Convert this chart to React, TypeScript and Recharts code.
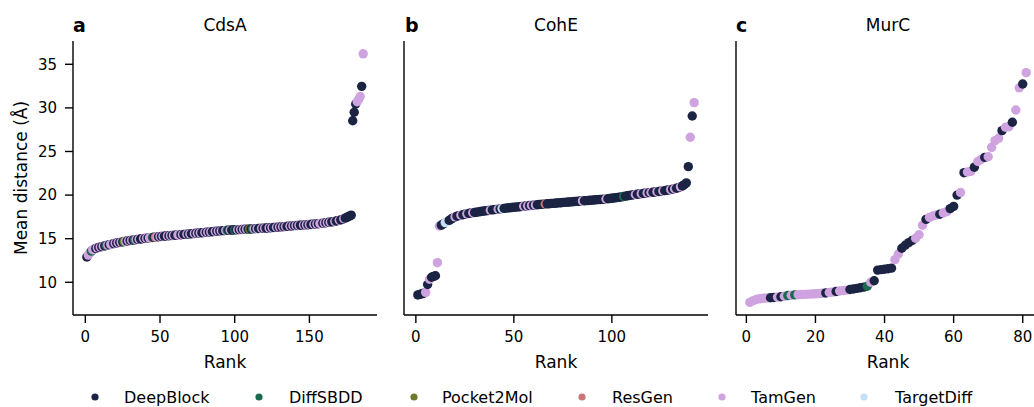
import * as React from 'react';
import { ScatterChart, Scatter, XAxis, YAxis } from 'recharts';

// model keys used in the per-point code strings
const modelKeys = ['D', 'S', 'P', 'R', 'T', 'X'];
const modelNames = ['DeepBlock', 'DiffSBDD', 'Pocket2Mol', 'ResGen', 'TamGen', 'TargetDiff'];
const modelColors = ['#1b2443', '#1d6a4f', '#6b7d2c', '#cc7777', '#cfa2e0', '#c5e0f2'];

const yTicks = [10, 15, 20, 25, 30, 35];

// CdsA: mean distance by rank (186 molecules)
const cdsaDistance = [
    12.9, 13.12, 13.38, 13.58, 13.74, 13.82, 13.88, 13.95, 14.0, 14.05,
    14.09, 14.14, 14.18, 14.22, 14.27, 14.31, 14.35, 14.4, 14.44, 14.49,
    14.52, 14.55, 14.58, 14.61, 14.64, 14.67, 14.7, 14.73, 14.76, 14.79,
    14.82, 14.84, 14.87, 14.9, 14.92, 14.95, 14.97, 15.0, 15.02, 15.04,
    15.06, 15.08, 15.1, 15.12, 15.14, 15.16, 15.18, 15.2, 15.22, 15.25,
    15.26, 15.28, 15.29, 15.31, 15.32, 15.34, 15.35, 15.37, 15.38, 15.4,
    15.41, 15.43, 15.44, 15.46, 15.47, 15.49, 15.5, 15.52, 15.53, 15.55,
    15.57, 15.58, 15.6, 15.62, 15.63, 15.65, 15.67, 15.68, 15.7, 15.72,
    15.74, 15.75, 15.77, 15.79, 15.8, 15.82, 15.84, 15.86, 15.88, 15.9,
    15.91, 15.92, 15.93, 15.95, 15.96, 15.97, 15.98, 15.99, 16.0, 16.01,
    16.02, 16.03, 16.04, 16.05, 16.06, 16.07, 16.08, 16.09, 16.1, 16.11,
    16.12, 16.13, 16.14, 16.15, 16.16, 16.17, 16.18, 16.19, 16.2, 16.21,
    16.22, 16.23, 16.24, 16.26, 16.27, 16.28, 16.3, 16.31, 16.32, 16.34,
    16.35, 16.37, 16.38, 16.4, 16.41, 16.43, 16.44, 16.46, 16.48, 16.5,
    16.51, 16.52, 16.53, 16.55, 16.56, 16.57, 16.58, 16.59, 16.6, 16.62,
    16.63, 16.65, 16.66, 16.68, 16.7, 16.72, 16.74, 16.76, 16.78, 16.81,
    16.83, 16.85, 16.88, 16.9, 16.93, 16.96, 16.99, 17.03, 17.07, 17.11,
    17.16, 17.22, 17.29, 17.36, 17.44, 17.52, 17.61, 17.7,
    28.53, 29.5, 30.45, 30.7, 30.98, 31.3, 32.47, 36.2,
];
const cdsaModel =
    'DTTSTTDTDT DTDSTDTTDT DTDTDPTDTD TDSTDTDDTD TDTTSDRTDT DTDDTDTDTD ' +
    'DTTDTDDTDT DDTDTDTDDT DTDTDDTDTD TDDTSDTDDS DTDTDTDTDP DSTDTDDTDT ' +
    'DDTDTDDTDT DTDTDDTDTD TDTDDTDTDT DDTDTDTTDT DTDTDDTDDT DDTDDDDD DDDTTTDT';

// CohE: mean distance by rank (142 molecules)
const coheDistance = [
    8.55, 8.62, 8.68, 8.75, 8.85, 9.75, 10.35, 10.58, 10.68, 10.75,
    12.25, 16.45, 16.55, 16.7, 16.85, 16.97, 17.1, 17.25, 17.38, 17.5,
    17.58, 17.65, 17.7, 17.75, 17.8, 17.85, 17.9, 17.95, 17.98, 18.01,
    18.04, 18.08, 18.11, 18.15, 18.18, 18.21, 18.24, 18.27, 18.3, 18.33,
    18.36, 18.39, 18.42, 18.45, 18.48, 18.5, 18.53, 18.55, 18.58, 18.6,
    18.62, 18.65, 18.67, 18.7, 18.72, 18.75, 18.77, 18.8, 18.82, 18.85,
    18.87, 18.9, 18.92, 18.94, 18.96, 18.98, 19.0, 19.01, 19.03, 19.05,
    19.07, 19.09, 19.11, 19.13, 19.15, 19.17, 19.19, 19.2, 19.22, 19.24,
    19.26, 19.28, 19.3, 19.32, 19.33, 19.35, 19.37, 19.38, 19.4, 19.42,
    19.44, 19.46, 19.48, 19.5, 19.51, 19.52, 19.55, 19.58, 19.61, 19.64,
    19.67, 19.7, 19.73, 19.76, 19.8, 19.84, 19.88, 19.92, 19.96, 20.0,
    20.04, 20.07, 20.1, 20.13, 20.16, 20.19, 20.22, 20.25, 20.28, 20.3,
    20.33, 20.36, 20.39, 20.42, 20.45, 20.48, 20.51, 20.55, 20.59, 20.63,
    20.68, 20.73, 20.79, 20.86, 20.95, 21.05, 21.2, 21.4, 23.26, 26.63,
    29.07, 30.6,
];
const coheModel =
    'DDDDTDTDDD TTDDXXDDDT DDTDDTDDTD DDDDDDDTDD DTDXDDDDDD DDDDTDTDTD ' +
    'TDDDDRDDDD DDDDDDDDDD DDDDTDDDDD DDDDDDTDDD DDDDDSDDDD DTDDTDDTDT ' +
    'DDTDDTDDDT DTDDTDDDDT DT';

// MurC: mean distance by rank (81 molecules)
const murcDistance = [
    7.7, 7.9, 8.05, 8.12, 8.17, 8.2, 8.23, 8.26, 8.3, 8.34,
    8.4, 8.48, 8.52, 8.56, 8.58, 8.6, 8.62, 8.64, 8.66, 8.68,
    8.7, 8.74, 8.78, 8.83, 8.88, 8.95, 9.0, 9.05, 9.1, 9.18,
    9.24, 9.3, 9.38, 9.45, 9.55, 10.0, 10.18, 11.4, 11.45, 11.5,
    11.55, 11.62, 12.6, 13.25, 13.9, 14.25, 14.55, 14.8, 15.05, 15.45,
    16.55, 17.22, 17.45, 17.6, 17.72, 17.8, 17.95, 18.1, 18.45, 18.7,
    20.0, 20.3, 22.57, 22.65, 22.72, 23.2, 23.85, 24.1, 24.33, 24.4,
    25.48, 26.24, 26.51, 27.39, 27.78, 27.84, 28.35, 29.76, 32.3, 32.74,
    34.04,
];
const murcModel =
    'TTTTTTDDTD TSTSTTTTTT TTDTTDTTTD DDDDSTDDDD DDTTDDDDTT TDTTTDTTDD ' +
    'DTDTTDTTDT TTTDTTDTTD T';

const font = '"DejaVu Sans", sans-serif';
const ink = '#000';

const toPoints = (values: number[], codes: string) => {
    const c = codes.replace(/ /g, '');
    return values.map((v, i) => ({
        rank: i + 1,
        distance: v,
        color: modelColors[Math.max(0, modelKeys.indexOf(c[i]))],
    }));
};

const Dot = (p: any) => <circle cx={p.cx} cy={p.cy} r={4.7} fill={p.payload.color} />;

type PanelProps = {
    left: number;
    width: number;
    margin: { top: number; right: number; bottom: number; left: number };
    yWidth: number;
    showYLabels: boolean;
    xDomain: [number, number];
    xTicks: number[];
    data: { rank: number; distance: number; color: string }[];
};

const Panel = (props: PanelProps) => (
    <div style={{ position: 'absolute', left: props.left, top: 0 }}>
        <ScatterChart width={props.width} height={407} margin={props.margin}>
            <XAxis
                type="number"
                dataKey="rank"
                domain={props.xDomain}
                ticks={props.xTicks}
                interval={0}
                height={30}
                tickSize={8}
                tickMargin={8}
                axisLine={{ stroke: ink, strokeWidth: 1.4 }}
                tickLine={{ stroke: ink, strokeWidth: 1.4 }}
                tick={{ fill: ink, fontSize: 15, fontFamily: font }}
            />
            <YAxis
                type="number"
                dataKey="distance"
                domain={[6.25, 37.67]}
                ticks={yTicks}
                interval={0}
                width={props.yWidth}
                tickSize={8}
                tickMargin={8}
                axisLine={{ stroke: ink, strokeWidth: 1.4 }}
                tickLine={{ stroke: ink, strokeWidth: 1.4 }}
                tick={props.showYLabels ? { fill: ink, fontSize: 15, fontFamily: font } : false}
            />
            <Scatter data={props.data} shape={Dot} isAnimationActive={false} />
        </ScatterChart>
    </div>
);

const titles = [
    { letter: 'a', name: 'CdsA', x0: 73, cx: 225 },
    { letter: 'b', name: 'CohE', x0: 405, cx: 556 },
    { letter: 'c', name: 'MurC', x0: 736, cx: 888 },
];

const legendSpots = [
    { dot: 95, text: 124 },
    { dot: 259, text: 289 },
    { dot: 414, text: 442 },
    { dot: 582, text: 612 },
    { dot: 722, text: 751 },
    { dot: 864, text: 895 },
];

const App = () => {
    return (
        <div style={{ position: 'absolute', left: 0, top: 0, width: 1034, height: 407, overflow: 'hidden', background: '#fff', fontFamily: font }}>
            <Panel
                left={0}
                width={390}
                margin={{ top: 41, right: 13, bottom: 62, left: 13 }}
                yWidth={60}
                showYLabels={true}
                xDomain={[-8.25, 195.25]}
                xTicks={[0, 50, 100, 150]}
                data={toPoints(cdsaDistance, cdsaModel)}
            />
            <Panel
                left={390}
                width={330}
                margin={{ top: 41, right: 12, bottom: 62, left: 4 }}
                yWidth={10}
                showYLabels={false}
                xDomain={[-6.05, 149.05]}
                xTicks={[0, 50, 100]}
                data={toPoints(coheDistance, coheModel)}
            />
            <Panel
                left={720}
                width={320}
                margin={{ top: 41, right: 0, bottom: 62, left: 6 }}
                yWidth={10}
                showYLabels={false}
                xDomain={[-3, 85]}
                xTicks={[0, 20, 40, 60, 80]}
                data={toPoints(murcDistance, murcModel)}
            />
            <svg width={1034} height={407} style={{ position: 'absolute', left: 0, top: 0, pointerEvents: 'none' }}>
                {titles.map((t) => (
                    <g key={t.name}>
                        <text x={t.x0} y={31.5} fontSize={19} fontWeight="bold" fontFamily={font} fill={ink}>
                            {t.letter}
                        </text>
                        <text x={t.cx} y={30.7} fontSize={17} fontFamily={font} fill={ink} textAnchor="middle">
                            {t.name}
                        </text>
                        <text x={t.cx} y={367.5} fontSize={17} fontFamily={font} fill={ink} textAnchor="middle">
                            Rank
                        </text>
                    </g>
                ))}
                <text
                    x={26.5}
                    y={178}
                    fontSize={17}
                    fontFamily={font}
                    fill={ink}
                    textAnchor="middle"
                    transform="rotate(-90 26.5 178)"
                >
                    Mean distance (Å)
                </text>
                {modelNames.map((name, i) => (
                    <g key={name}>
                        <circle cx={legendSpots[i].dot} cy={397} r={3.6} fill={modelColors[i]} />
                        <text x={legendSpots[i].text} y={403} fontSize={16} fontFamily={font} fill={ink}>
                            {name}
                        </text>
                    </g>
                ))}
            </svg>
        </div>
    );
};

export default App;
